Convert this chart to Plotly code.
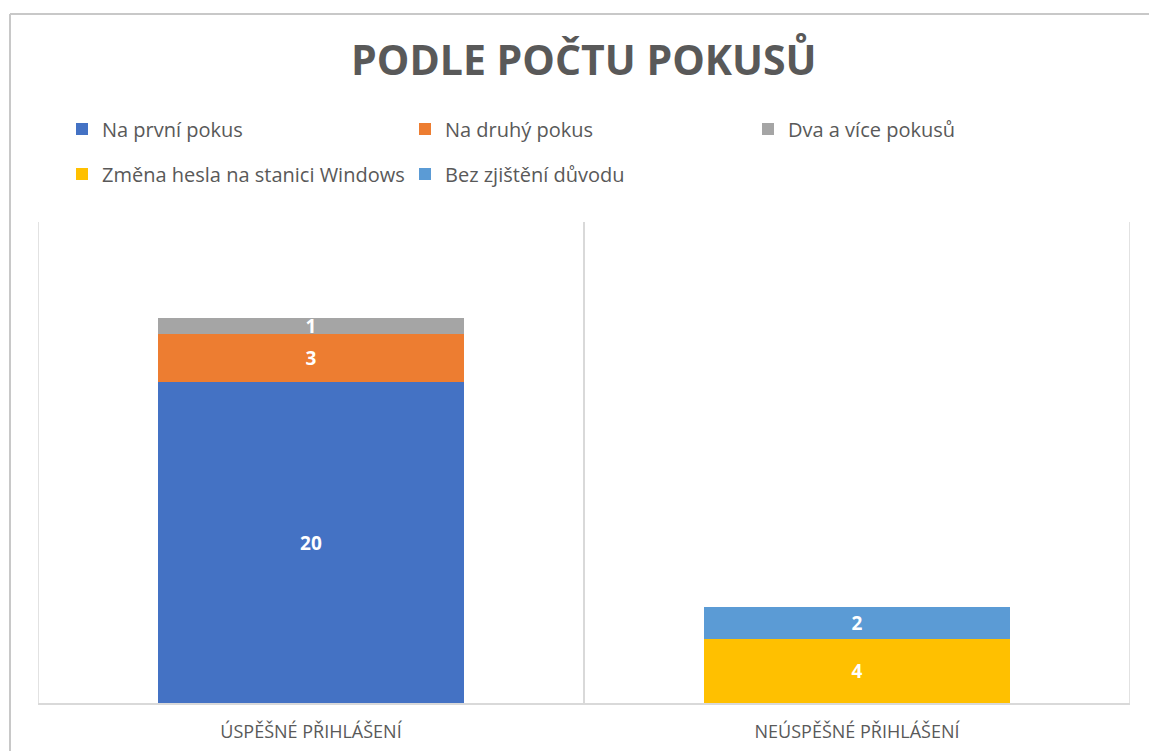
import plotly.graph_objects as go

categories = ["ÚSPĚŠNÉ PŘIHLÁŠENÍ", "NEÚSPĚŠNÉ PŘIHLÁŠENÍ"]
series_names = ["Na první pokus", "Na druhý pokus", "Dva a více pokusů",
                "Změna hesla na stanici Windows", "Bez zjištění důvodu"]
na_prvni = [20, None]
na_druhy = [3, None]
dva_a_vice = [1, None]
zmena_hesla = [None, 4]
bez_zjisteni = [None, 2]
colors = ["#4472C4", "#ED7D31", "#A5A5A5", "#FFC000", "#5B9BD5"]
title_text = "PODLE POČTU POKUSŮ"

W, H = 1149, 751
L, R, T, B = 38, 19, 222, 48
pw, ph = W - L - R, H - T - B

def px_x(x):
    return (x - L) / pw

def px_y(y):
    return (H - B - y) / ph

fig = go.Figure()
values = [na_prvni, na_druhy, dva_a_vice, zmena_hesla, bez_zjisteni]
legends = ["legend", "legend", "legend", "legend2", "legend2"]
for name, vals, col, lg in zip(series_names, values, colors, legends):
    fig.add_trace(go.Bar(
        x=categories, y=vals, name=name, marker=dict(color=col, line=dict(width=0)),
        width=0.56, text=[("" if v is None else str(v)) for v in vals],
        textposition="inside", insidetextanchor="middle", textangle=0,
        constraintext="none",
        textfont=dict(color="white", size=19, family="Open Sans", weight="bold"),
        legend=lg,
    ))

legend_common = dict(
    orientation="h", xanchor="left", yanchor="middle",
    entrywidth=298, entrywidthmode="pixels", traceorder="normal",
    font=dict(family="Open Sans", size=20, color="#595959"),
    bgcolor="rgba(0,0,0,0)",
)

fig.update_layout(
    width=W, height=H,
    margin=dict(l=L, r=R, t=T, b=B, autoexpand=False),
    barmode="stack",
    paper_bgcolor="white", plot_bgcolor="white",
    uniformtext=dict(mode="show", minsize=19),
    showlegend=True,
    legend=dict(x=px_x(62), y=px_y(129), **legend_common),
    legend2=dict(x=px_x(62), y=px_y(174), **legend_common),
    annotations=[dict(
        text=title_text, xref="paper", yref="paper", x=0.5, y=px_y(59),
        xanchor="center", yanchor="middle", showarrow=False,
        font=dict(family="Open Sans", size=41, color="#595959", weight="bold"),
    )],
    shapes=[
        dict(type="line", xref="paper", yref="paper", x0=px_x(10), x1=px_x(10),
             y0=px_y(14), y1=px_y(760), line=dict(color="#C8C8C8", width=2)),
        dict(type="line", xref="paper", yref="paper", x0=px_x(10), x1=px_x(1160),
             y0=px_y(14), y1=px_y(14), line=dict(color="#C8C8C8", width=2)),
        dict(type="line", xref="x", yref="paper", x0=-0.5, x1=-0.5, y0=0, y1=1,
             line=dict(color="#D9D9D9", width=1.5), layer="below"),
        dict(type="line", xref="x", yref="paper", x0=1.5, x1=1.5, y0=0, y1=1,
             line=dict(color="#D9D9D9", width=1.5), layer="below"),
    ],
)

fig.update_xaxes(
    type="category", range=[-0.5, 1.5], tickson="boundaries",
    showgrid=True, gridcolor="#D9D9D9", gridwidth=1.5,
    showline=True, linecolor="#D9D9D9", linewidth=1.5,
    ticks="", ticklabelstandoff=12, automargin=False,
    tickfont=dict(family="Open Sans", size=18, color="#595959"),
    zeroline=False,
)
fig.update_yaxes(range=[0, 30], showgrid=False, showticklabels=False,
                 zeroline=False, showline=False, automargin=False)

fig.write_html("out.html")
